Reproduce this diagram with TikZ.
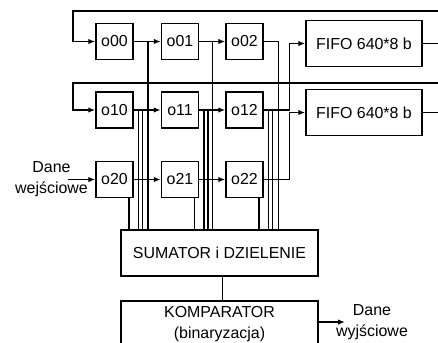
\documentclass[tikz,border=0pt]{standalone}
\usepackage{fontspec}
\setmainfont{Liberation Sans}
\usetikzlibrary{arrows.meta,calc}
\begin{document}
\begin{tikzpicture}[x=1bp,y=-1bp,line width=1.5bp,
  txt/.style={font=\fontsize{16}{21}\selectfont},
  reg/.style={draw,txt,minimum width=37bp,minimum height=36bp,inner sep=0pt},
  fifo/.style={draw,txt,minimum width=116bp,minimum height=46bp,inner sep=0pt},
  blk/.style={draw,txt,minimum width=197bp,minimum height=46bp,inner sep=0pt,align=center},
  arr/.style={-{Latex[length=7bp,width=5.5bp]}}]
\clip (0,0) rectangle (438,342);
\useasboundingbox (0,0) rectangle (438,342);
% registers
\node[reg] (o00) at (114.5,41.5) {o00};
\node[reg] (o01) at (180,41.5) {o01};
\node[reg] (o02) at (244.5,41.5) {o02};
\node[reg] (o10) at (114.5,110) {o10};
\node[reg] (o11) at (180,110) {o11};
\node[reg] (o12) at (244.5,110) {o12};
\node[reg] (o20) at (114.5,179.5) {o20};
\node[reg] (o21) at (180,179.5) {o21};
\node[reg] (o22) at (244.5,179.5) {o22};
% fifos
\node[fifo] (f1) at (364,43.5) {FIFO 640*8 b};
\node[fifo] (f2) at (364,112.5) {FIFO 640*8 b};
% blocks
\node[blk] (sum) at (219.5,253) {SUMATOR i DZIELENIE};
\node[blk] (komp) at (219.5,324) {KOMPARATOR\\(binaryzacja)};
% labels
\node[txt,align=center] (inl) at (51.5,179.5) {Dane\\wejściowe};
\node[txt,align=center] (outl) at (372,322) {Dane\\wyjściowe};
\coordinate (inp) at (68,179.5);
\coordinate (edge) at (438,0);
\coordinate (fb0) at (438,11);
\coordinate (fb1) at (438,83);
\coordinate (outp) at (345,322);
% feedback loops
\draw[arr] (fb0) -| (73,41.5) -- (o00.west);
\draw[arr] (fb1) -| (73,110) -- (o10.west);
\draw (f1.east) -- (f1.east -| edge);
\draw (f2.east) -- (f2.east -| edge);
% shifts
\draw[arr] (o00) -- (o01);
\draw[arr] (o01) -- (o02);
\draw[arr] (o10) -- (o11);
\draw[arr] (o11) -- (o12);
\draw[arr] (inp) -- (o20.west);
\draw[arr] (o20) -- (o21);
\draw[arr] (o21) -- (o22);
% to fifos
\draw[arr] (o12.east) -| ($(f1.west)+(-16,0)$) -- (f1.west);
\draw[arr] (o22.east) -| ($(f2.west)+(-16,0)$) -- (f2.west);
% row 0 outputs to summator
\draw (o02.east) -- ++(14.5,0) coordinate (c02) -- (c02 |- sum.north);
\draw ($(o00.east)+(14,0)$) coordinate (c00) -- (c00 |- sum.north);
\draw ($(o01.east)+(13,0)$) coordinate (c01) -- (c01 |- sum.north);
% row 1 outputs
\foreach \n in {o10,o11,o12}{
  \draw ($(\n.east)+(4.5,0)$) coordinate (a) -- (a |- sum.north);
  \draw ($(\n.east)+(8.5,0)$) coordinate (b) -- (b |- sum.north);
}
% row 2 bottoms
\foreach \n in {o20,o21,o22}{
  \draw ($(\n.south east)+(-5,0)$) coordinate (d) -- (d |- sum.north);
}
% summator to comparator
\draw (sum.south) ++(3,0) coordinate (s) -- (s |- komp.north);
\draw[arr] (komp.east |- outp) -- (outp);
\end{tikzpicture}
\end{document}
